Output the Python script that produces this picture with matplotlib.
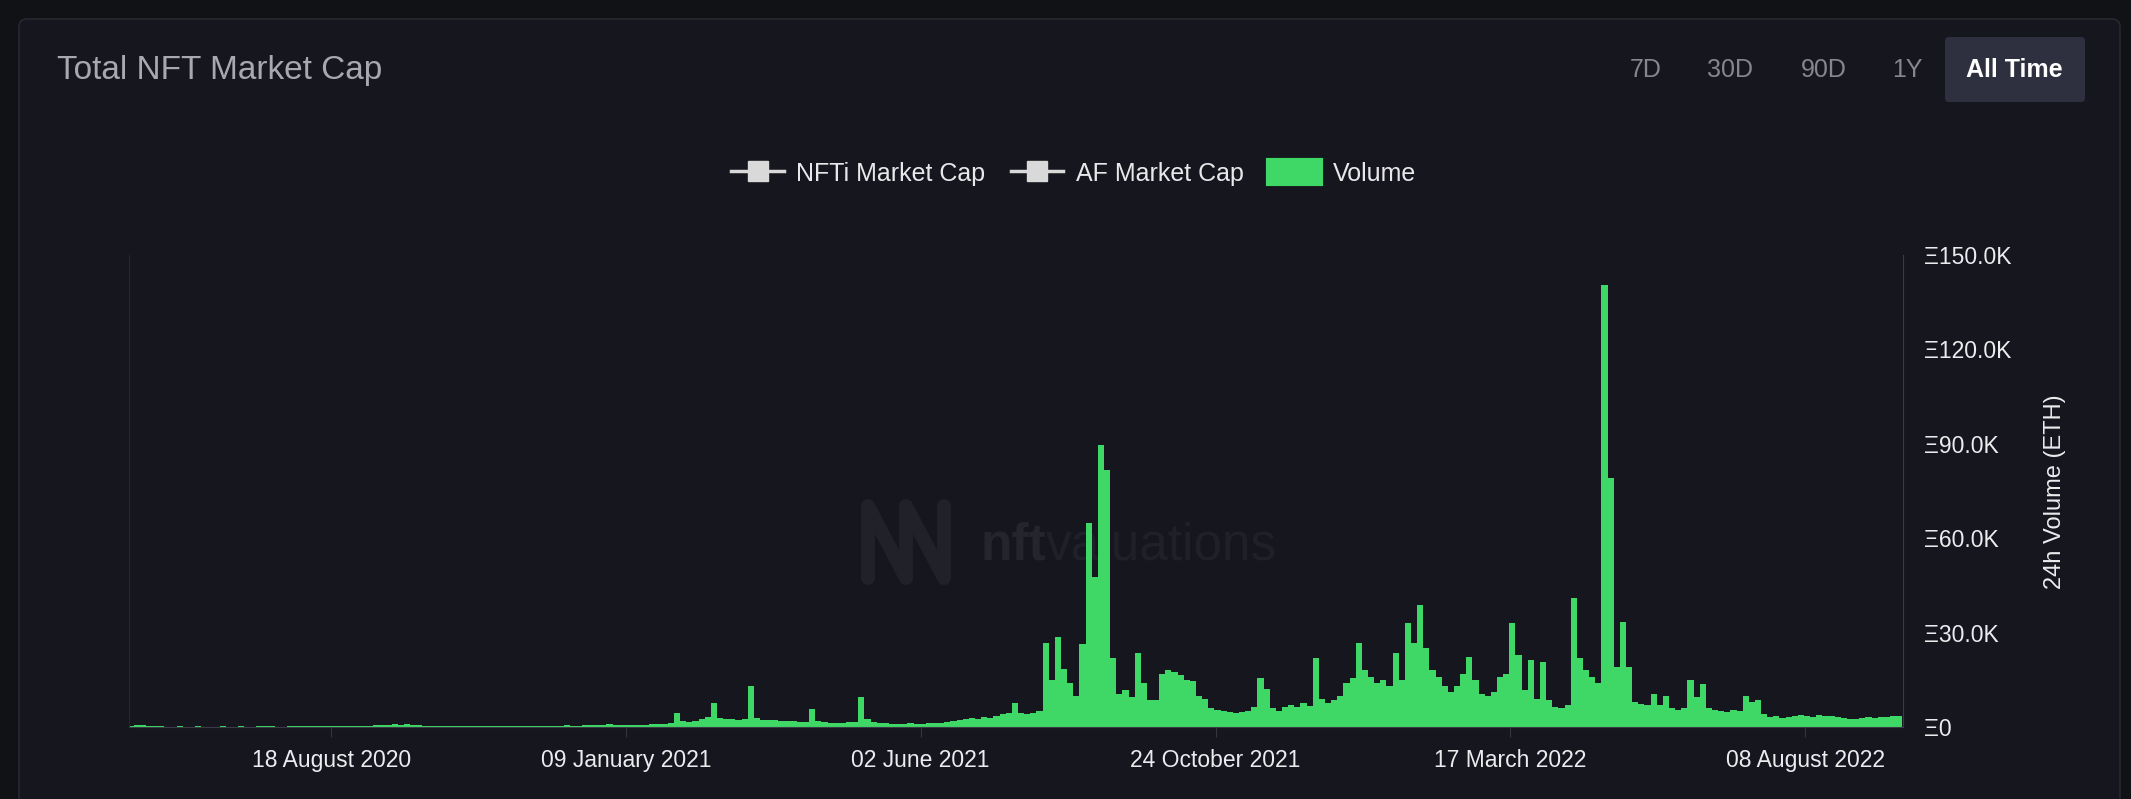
import pandas as pd
import matplotlib
matplotlib.use('Agg')
import matplotlib.pyplot as plt
import matplotlib.dates as mdates
from matplotlib.lines import Line2D
from matplotlib.patches import Patch, FancyBboxPatch
from matplotlib.ticker import FuncFormatter

title = 'Total NFT Market Cap'
ranges = ['7D', '30D', '90D', '1Y', 'All Time']
series_names = ['NFTi Market Cap', 'AF Market Cap', 'Volume']
ylab = '24h Volume (ETH)'

# 24h volume in thousands of ETH, one value every 3 days from 12 May 2020
start_date = '2020-05-12'
step = '3D'
volume_k = [
    0.4, 0.6, 0.5, 0.4, 0.3, 0.2, 0.15, 0.1, 0.2, 0.1,
    0.15, 0.2, 0.1, 0.1, 0.15, 0.2, 0.1, 0.1, 0.2, 0.15,
    0.1, 0.2, 0.3, 0.2, 0.1, 0.15, 0.2, 0.3, 0.2, 0.25,
    0.2, 0.3, 0.2, 0.3, 0.25, 0.3, 0.35, 0.3, 0.4, 0.4,
    0.5, 0.7, 0.6, 0.8, 0.6, 1.0, 0.7, 0.5, 0.3, 0.3,
    0.2, 0.3, 0.25, 0.3, 0.2, 0.2, 0.3, 0.25, 0.2, 0.3,
    0.3, 0.4, 0.4, 0.35, 0.45, 0.4, 0.3, 0.4, 0.45, 0.4,
    0.35, 0.5, 0.4, 0.45, 0.5, 0.6, 0.7, 0.6, 0.8, 0.7,
    0.6, 0.6, 0.7, 0.6, 0.7, 0.9, 1.0, 1.1, 1.2, 4.3,
    1.8, 1.6, 1.9, 2.6, 3.3, 7.7, 3.0, 2.5, 2.4, 2.2,
    2.6, 13.0, 3.0, 2.3, 2.1, 2.2, 2.0, 1.9, 1.8, 1.7,
    1.6, 5.6, 1.8, 1.5, 1.4, 1.3, 1.4, 1.5, 1.6, 9.6,
    2.5, 1.6, 1.3, 1.2, 1.1, 1.0, 1.1, 1.2, 1.1, 1.0,
    1.2, 1.3, 1.2, 1.6, 1.8, 2.2, 2.6, 3.0, 2.6, 3.2,
    3.0, 3.6, 4.0, 4.5, 7.5, 4.4, 4.2, 4.5, 5.0, 26.6,
    15.0, 28.6, 18.5, 14.0, 10.0, 26.5, 64.7, 47.8, 89.6, 81.7,
    22.0, 10.5, 11.7, 9.5, 23.5, 14.0, 8.6, 8.5, 17.0, 18.0,
    17.5, 16.5, 15.0, 14.5, 10.0, 9.0, 6.0, 5.4, 5.0, 4.8,
    4.5, 4.7, 5.0, 6.5, 15.5, 12.0, 6.0, 5.2, 6.5, 7.0,
    6.5, 7.5, 6.8, 21.8, 9.0, 7.5, 8.5, 10.0, 14.0, 15.5,
    26.6, 18.0, 16.0, 14.0, 15.0, 13.0, 23.4, 15.0, 33.0, 26.6,
    38.8, 25.0, 18.0, 16.0, 13.0, 11.0, 13.0, 17.0, 22.4, 15.0,
    10.5, 10.0, 11.0, 16.0, 17.0, 33.0, 23.0, 11.8, 21.3, 9.0,
    20.8, 8.5, 6.5, 6.0, 7.0, 41.0, 22.0, 18.0, 16.0, 14.0,
    140.5, 79.0, 19.0, 33.4, 19.0, 8.0, 7.4, 7.0, 10.6, 7.0,
    10.0, 6.0, 5.5, 6.0, 14.8, 9.5, 13.8, 6.0, 5.3, 5.0,
    4.8, 5.5, 5.0, 10.0, 8.0, 8.5, 4.0, 3.2, 3.4, 3.0,
    3.1, 3.6, 3.8, 3.5, 3.2, 3.9, 3.4, 3.6, 3.1, 3.0,
    2.7, 2.5, 2.8, 3.2, 2.9, 3.1, 3.3, 3.6, 3.4,
]
tick_dates = ['2020-08-18', '2021-01-09', '2021-06-02', '2021-10-24', '2022-03-17', '2022-08-08']
y_ticks = [0, 30, 60, 90, 120, 150]

dates = pd.date_range(start_date, periods=len(volume_k), freq=step)

bg = '#15161e'
outer = '#111216'
green = '#3fd866'
W, H = 2131, 799

plt.rcParams['font.family'] = ['Liberation Sans', 'DejaVu Sans']
fig = plt.figure(figsize=(W / 100, H / 100), dpi=100, facecolor=outer)

# background layer in pixel coords (panel, header, watermark)
bgax = fig.add_axes([0, 0, 1, 1], zorder=0)
bgax.set_xlim(0, W)
bgax.set_ylim(H, 0)
bgax.axis('off')
bgax.add_patch(FancyBboxPatch((19, 19), 2120 - 19, 820, boxstyle='round,pad=0,rounding_size=8',
                              facecolor=bg, edgecolor='#262730', linewidth=1.2))

bgax.text(57, 71, title, fontsize=24, color='#a7a8b1', va='center', ha='left')

btn_x = [1646, 1730, 1824, 1907, 2014]
bgax.add_patch(FancyBboxPatch((1945, 37), 140, 65, boxstyle='round,pad=0,rounding_size=4',
                              facecolor='#2f303f', edgecolor='none'))
for lab, bx in zip(ranges, btn_x):
    active = lab == 'All Time'
    bgax.text(bx, 70, lab, fontsize=18, ha='center', va='center',
              color='#ffffff' if active else '#85868f',
              fontweight='bold' if active else 'normal')

# watermark
bgax.plot([868, 868, 906, 906, 944, 944], [578, 506, 578, 506, 578, 506],
          color='#202129', lw=10, solid_joinstyle='round', solid_capstyle='round')
t1 = bgax.text(980, 560, 'nft', fontsize=37, fontweight='bold', color='#24252d', va='baseline')
fig.canvas.draw()
bb = t1.get_window_extent()
bgax.text(980 + bb.width, 560, 'valuations', fontsize=37, color='#1f2028', va='baseline')

# chart
ax = fig.add_axes([129 / W, 72 / H, (1903 - 129) / W, (727 - 255) / H], zorder=1)
ax.set_facecolor('none')
ax.bar(dates, volume_k, width=3, color=green, linewidth=0, align='center')

ax.set_xlim(pd.Timestamp('2020-05-11 06:00'), pd.Timestamp('2022-09-24 20:00'))
ax.set_ylim(0, 150)
ax.set_xticks(pd.to_datetime(tick_dates))
ax.xaxis.set_major_formatter(mdates.DateFormatter('%d %B %Y'))
ax.yaxis.tick_right()
ax.set_yticks(y_ticks)
ax.yaxis.set_major_formatter(FuncFormatter(lambda v, p: 'Ξ0' if v == 0 else f'Ξ{v:.1f}K'))

ax.tick_params(axis='x', length=7, color='#34353f', pad=9, labelsize=16.5, labelcolor='#ececef')
ax.tick_params(axis='y', length=0, pad=15, labelsize=16.5, labelcolor='#ececef')
ax.spines['top'].set_visible(False)
ax.spines['left'].set_color('#25262e')
ax.spines['right'].set_color('#3a3b45')
ax.spines['bottom'].set_color('#3a3b45')

fig.text(2055 / W, 1 - 492 / H, ylab, rotation=90, ha='center', va='center',
         fontsize=17, color='#ececef')

handles = [
    Line2D([], [], color='#d9d9d9', lw=2.5, marker='s', markersize=14),
    Line2D([], [], color='#d9d9d9', lw=2.5, marker='s', markersize=14),
    Patch(facecolor=green, edgecolor=green, linewidth=3, joinstyle='round'),
]
fig.legend(handles, series_names, loc='center', bbox_to_anchor=(1074 / W, 1 - 173 / H), ncol=3,
           frameon=False, fontsize=18, labelcolor='#e8e8ea', handlelength=2.1, handleheight=1.1,
           handletextpad=0.5, columnspacing=1.0)

plt.savefig('out.png', dpi=100, facecolor=outer)
